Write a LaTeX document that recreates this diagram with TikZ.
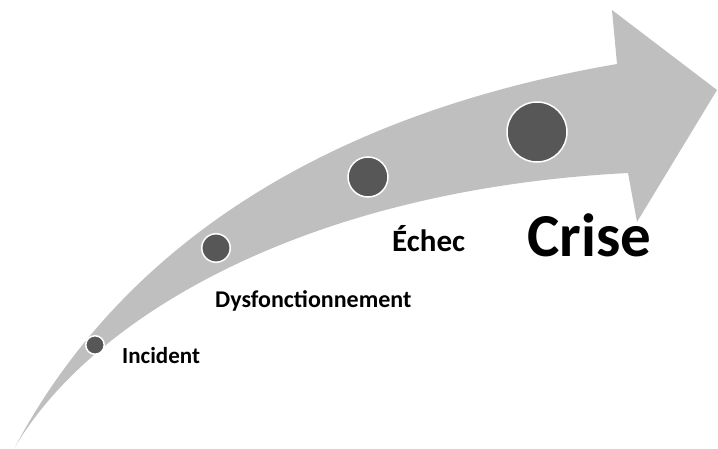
\documentclass[tikz,border=0pt]{standalone}
\usepackage{fontspec}
\setmainfont{Carlito}
\usepackage{tikz}
\definecolor{sweepGray}{HTML}{BFBFBF}
\definecolor{dotGray}{HTML}{575757}

\begin{document}
\begin{tikzpicture}[x=1pt,y=-1pt,
  dot/.style={circle, draw=white, line width=1.5pt, fill=dotGray, inner sep=0pt},
  stage/.style={font=\bfseries\fontsize{#1}{#1}\selectfont, anchor=base west,
                inner sep=0pt, text=black}]
  \useasboundingbox (0,0) rectangle (718,449);
  % the curved arrow
  \fill[sweepGray] (15,447) .. controls (120,250) and (320,115) .. (617,64)
    -- (612,10) -- (717,90) -- (637,222) -- (628,173)
    .. controls (300,190) and (90,320) .. (15,447) -- cycle;
  \node[dot, minimum size=18.5pt] (i) at (95,345)  {};
  \node[dot, minimum size=28.5pt] (d) at (216,248) {};
  \node[dot, minimum size=40pt]   (e) at (368,177) {};
  \node[dot, minimum size=60pt]   (c) at (537,132) {};
  \node[stage=23] (li) at (122,363) {Incident};
  \node[stage=24] (ld) at (215,308) {Dysfonctionnement};
  \node[stage=31] (le) at (392,252) {Échec};
  \node[stage=61] (lc) at (527,257) {Crise};
\end{tikzpicture}
\end{document}
